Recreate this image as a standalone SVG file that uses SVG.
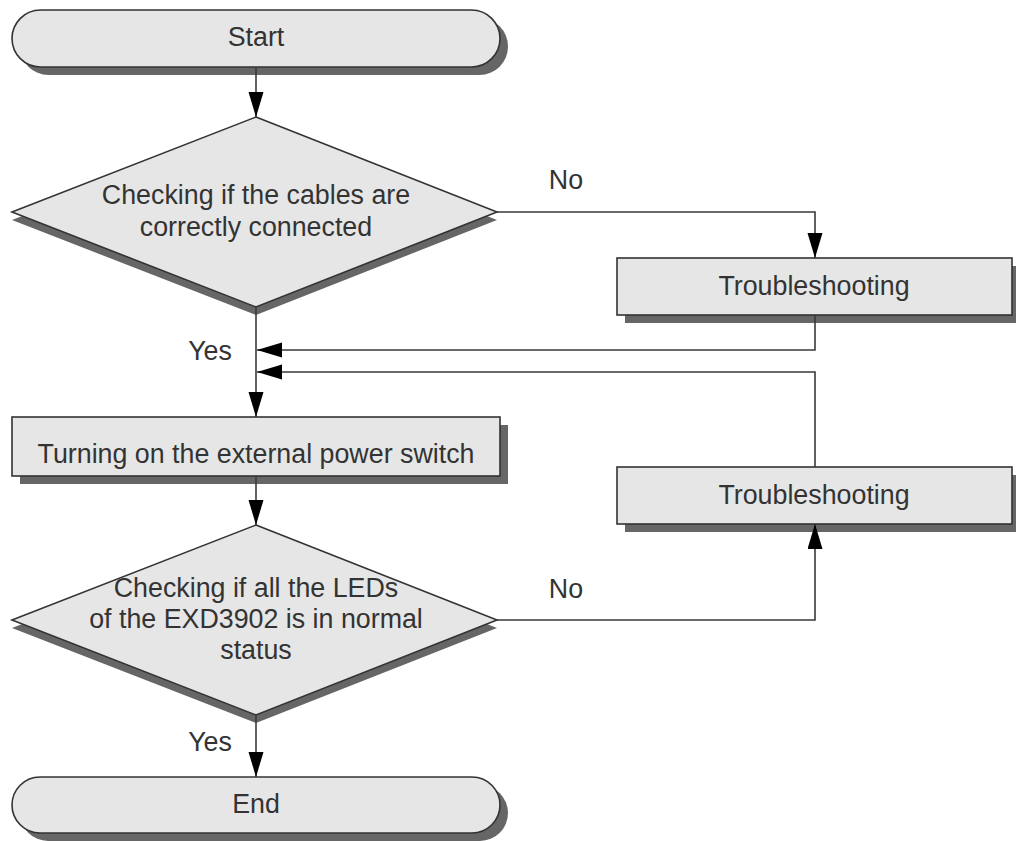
<svg xmlns="http://www.w3.org/2000/svg" width="1016" height="841" viewBox="0 0 1016 841">
<style>
.shape{fill:#e6e6e6;stroke:#333;stroke-width:1.6}
.shadow{fill:#666;stroke:none}
.t{font-family:"Liberation Sans",Arial,sans-serif;font-size:26.8px;fill:#333;text-anchor:middle}
.lbl{font-family:"Liberation Sans",Arial,sans-serif;font-size:26.8px;fill:#333;text-anchor:middle}
.c{fill:none;stroke:#3a3a3a;stroke-width:1.6;marker-end:url(#ah)}
</style>
<defs>
<marker id="ah" markerUnits="userSpaceOnUse" markerWidth="26" markerHeight="16" refX="25" refY="7.5" orient="auto">
<path d="M0,0 L25,7.5 L0,15 Z" fill="#000"/>
</marker>
</defs>
<rect width="1016" height="841" fill="#fff"/>
<g id="start">
<rect class="shadow" x="20" y="18" width="488" height="57" rx="28.5"/>
<rect class="shape" x="12" y="10" width="488" height="57" rx="28.5"/>
<text class="t" x="256" y="46">Start</text>
</g>
<g id="decision1">
<polygon class="shadow" points="256,125 497,220 256,315 12,220"/>
<polygon class="shape" points="256,117 497,212 256,307 12,212"/>
<text class="t" x="256" y="204">Checking if the cables are</text>
<text class="t" x="256" y="236">correctly connected</text>
</g>
<g id="trouble1">
<rect class="shadow" x="625" y="266" width="395" height="57"/>
<rect class="shape" x="617" y="258" width="395" height="57"/>
<text class="t" x="814" y="295">Troubleshooting</text>
</g>
<g id="power">
<rect class="shadow" x="20" y="425" width="488" height="59"/>
<rect class="shape" x="12" y="417" width="488" height="59"/>
<text class="t" x="256" y="463">Turning on the external power switch</text>
</g>
<g id="trouble2">
<rect class="shadow" x="625" y="475" width="395" height="57"/>
<rect class="shape" x="617" y="467" width="395" height="57"/>
<text class="t" x="814" y="504">Troubleshooting</text>
</g>
<g id="decision2">
<polygon class="shadow" points="256,533 497,628 256,723 12,628"/>
<polygon class="shape" points="256,525 497,620 256,715 12,620"/>
<text class="t" x="256" y="597">Checking if all the LEDs</text>
<text class="t" x="256" y="628">of the EXD3902 is in normal</text>
<text class="t" x="256" y="659">status</text>
</g>
<g id="end">
<rect class="shadow" x="20" y="785" width="488" height="56" rx="28"/>
<rect class="shape" x="12" y="777" width="488" height="56" rx="28"/>
<text class="t" x="256" y="813">End</text>
</g>
<g id="connectors">
<path class="c" d="M256,67 V117"/>
<path class="c" d="M497,212 H815 V258"/>
<path class="c" d="M815,315 V350 H257"/>
<path class="c" d="M256,307 V417"/>
<path class="c" d="M815,467 V372 H257"/>
<path class="c" d="M256,476 V525"/>
<path class="c" d="M497,620 H815 V524"/>
<path class="c" d="M256,715 V777"/>
<text class="lbl" x="566" y="189">No</text>
<text class="lbl" x="210" y="360">Yes</text>
<text class="lbl" x="566" y="598">No</text>
<text class="lbl" x="210" y="751">Yes</text>
</g>
</svg>
